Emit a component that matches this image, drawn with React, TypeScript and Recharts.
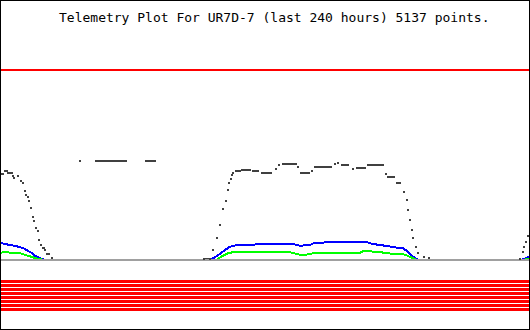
import { LineChart, Line, XAxis, YAxis, ReferenceLine } from 'recharts';

const TITLE = 'Telemetry Plot For UR7D-7 (last 240 hours) 5137 points.';

const DARK = '#404040';
const BLUE = '#0000ff';
const GREEN = '#00ff00';
const RED = '#ff0000';
const BASE = '#a0a0a0';

// hours window and value range of the plot
const HOURS = [0, 240];
const VALUE_RANGE = [-69, 259];

// upper limit and the packed lower limit band
const upperLimits = [190];
const lowerLimits = [-21.5, -25.5, -29.5, -33.5, -37.5, -41.5, -45.5, -49.5];

// dark trace: runs of [fromHour, toHour, value]; single samples have from === to
const darkDay1: number[][] = [
  [0, 0.9, 86], [1.8, 2.7, 89], [3.2, 5.0, 87], [5.5, 5.5, 84], [5.9, 5.9, 82],
  [7.7, 7.7, 84], [9.1, 9.1, 79], [10, 10, 77], [10.9, 10.9, 69], [11.4, 11.4, 65],
  [12.3, 12.3, 63], [12.7, 12.7, 59], [13.6, 13.6, 52.5], [14.5, 14.5, 43], [15, 15, 39],
  [15.9, 15.9, 32], [16.8, 16.8, 29], [17.3, 17.3, 20], [18.2, 18.2, 15], [19.1, 19.5, 12],
  [20, 20, 10], [20.9, 21.8, 6], [23.2, 23.2, 2],
];
const darkStray: number[][] = [[35.9, 35.9, 99], [43.2, 56.8, 99], [65.9, 70, 99]];
const darkDay2: number[][] = [
  [92.3, 95, 1], [96.2, 96.2, 10], [98, 98, 22], [99.5, 99.5, 35], [101, 101, 51],
  [102.1, 102.1, 59], [103.3, 103.3, 70], [103.8, 103.8, 77], [104.4, 104.4, 81],
  [105.1, 105.1, 85], [105.6, 105.6, 87], [106.8, 108.6, 89], [109.4, 113.2, 90],
  [114.5, 116.8, 89], [118.5, 122.6, 87], [125, 125, 91], [126.5, 126.5, 95],
  [128.3, 134, 96], [135.1, 135.1, 93], [136.2, 140.1, 87], [141.2, 141.2, 89],
  [142.7, 149.9, 93], [151.8, 151.8, 96], [153, 153, 97], [154.9, 157.9, 95],
  [159.9, 159.9, 91], [161.7, 165.5, 92], [167, 173.8, 95], [174.9, 174.9, 86],
  [176, 178.8, 83], [179.9, 181.4, 77], [183.2, 183.2, 68], [184.4, 184.4, 60],
  [185.1, 185.1, 50], [185.9, 185.9, 40], [186.7, 186.7, 30], [187.4, 187.4, 22],
  [188.6, 188.6, 13], [189.5, 189.5, 7], [192.3, 192.3, 3], [194.7, 194.7, 2],
];
const darkDay3: number[][] = [
  [235.9, 235.9, 1], [237.1, 237.1, 8], [237.7, 237.7, 13], [238.6, 238.6, 18], [239.4, 239.4, 24],
];

// blue trace: [hour, value]
const blueTrace: number[][] = [
  [0, 17], [1.8, 16], [4.1, 15], [6.4, 14], [8.6, 13], [10.9, 11], [12.3, 9], [14.1, 7],
  [15.5, 4], [17.7, 2], [20, 0],
  [95, 0], [95.9, 1], [99.5, 6], [101.8, 10], [104.1, 13.3], [107.3, 15], [123.6, 16],
  [132.7, 16], [135.9, 14.3], [140.5, 15], [142.7, 17.3], [150.9, 17.7], [166.4, 17.7],
  [169.1, 16], [174.5, 14.3], [180, 12.3], [182.7, 11.7], [185, 8.3], [187.3, 3.3],
  [189.1, 1], [190, 0],
  [236.4, 0], [236.8, 0.5], [239.1, 2.3], [240, 3],
];

// green trace: [hour, value]
const greenTrace: number[][] = [
  [0, 7.3], [1.8, 8], [4.1, 7.3], [8.6, 7], [10, 5.7], [12.3, 4.3], [14.5, 2.7], [16.8, 1], [20, 0],
  [98.2, 0], [98.6, 1], [100, 3.3], [103.2, 6.7], [106.4, 8.3], [117.7, 8.3], [131.4, 7.7],
  [134.5, 6], [137.3, 4.7], [140.5, 6], [142.7, 7.3], [163.2, 7.3], [164.5, 8.7], [172.3, 8.3],
  [174.5, 6.7], [182.7, 6], [185, 4], [188.2, 1], [189, 0],
  [238.2, 0], [238.6, 1], [240, 1.5],
];

const toRows = (pts: number[][]) => pts.map(([h, v]) => ({ h, v }));

// runs -> rows, a null row after each run breaks the line
const runsToRows = (runs: number[][]) =>
  runs.flatMap(([a, b, v]) =>
    a === b ? [{ h: a, v }, { h: a, v: null }] : [{ h: a, v }, { h: b, v }, { h: b, v: null }],
  );

const darkRows = runsToRows([...darkDay1, ...darkStray, ...darkDay2, ...darkDay3]);
const baseRows = HOURS.map((h) => ({ h, v: 0 }));

const squareDot = (p: any) => {
  if (p.cx == null || p.cy == null || p.value == null || p.payload?.v == null) {
    return <g key={`d${p.index}`} />;
  }
  return (
    <rect
      key={`d${p.index}`}
      x={p.cx - 1}
      y={p.cy - 1}
      width={2}
      height={2}
      fill={DARK}
      shapeRendering="crispEdges"
    />
  );
};

export default function App() {
  return (
    <div
      style={{
        position: 'relative',
        width: 528,
        height: 328,
        border: '1px solid #000',
        background: '#fff',
      }}
    >
      <style>{'body{margin:0}'}</style>
      <div
        style={{
          position: 'absolute',
          left: 58,
          top: 10,
          fontFamily: '"DejaVu Sans Mono", monospace',
          fontSize: 13,
          lineHeight: '13px',
          color: '#000',
          whiteSpace: 'pre',
        }}
      >
        {TITLE}
      </div>
      <LineChart width={528} height={328} margin={{ top: 0, right: 0, bottom: 0, left: 0 }}>
        <XAxis type="number" dataKey="h" domain={HOURS} hide />
        <YAxis type="number" dataKey="v" domain={VALUE_RANGE} hide allowDataOverflow />
        {upperLimits.map((y) => (
          <ReferenceLine key={`u${y}`} y={y} stroke={RED} strokeWidth={2} shapeRendering="crispEdges" />
        ))}
        {lowerLimits.map((y) => (
          <ReferenceLine key={`l${y}`} y={y} stroke={RED} strokeWidth={3} shapeRendering="crispEdges" />
        ))}
        <Line
          data={darkRows}
          dataKey="v"
          type="linear"
          stroke={DARK}
          strokeWidth={2}
          dot={squareDot}
          activeDot={false}
          connectNulls={false}
          shapeRendering="crispEdges"
          isAnimationActive={false}
        />
        <Line
          data={toRows(blueTrace)}
          dataKey="v"
          type="linear"
          stroke={BLUE}
          strokeWidth={2}
          dot={false}
          activeDot={false}
          shapeRendering="crispEdges"
          isAnimationActive={false}
        />
        <Line
          data={toRows(greenTrace)}
          dataKey="v"
          type="linear"
          stroke={GREEN}
          strokeWidth={2}
          dot={false}
          activeDot={false}
          shapeRendering="crispEdges"
          isAnimationActive={false}
        />
        <Line
          data={baseRows}
          dataKey="v"
          type="linear"
          stroke={BASE}
          strokeWidth={2}
          dot={false}
          activeDot={false}
          shapeRendering="crispEdges"
          isAnimationActive={false}
        />
      </LineChart>
    </div>
  );
}
